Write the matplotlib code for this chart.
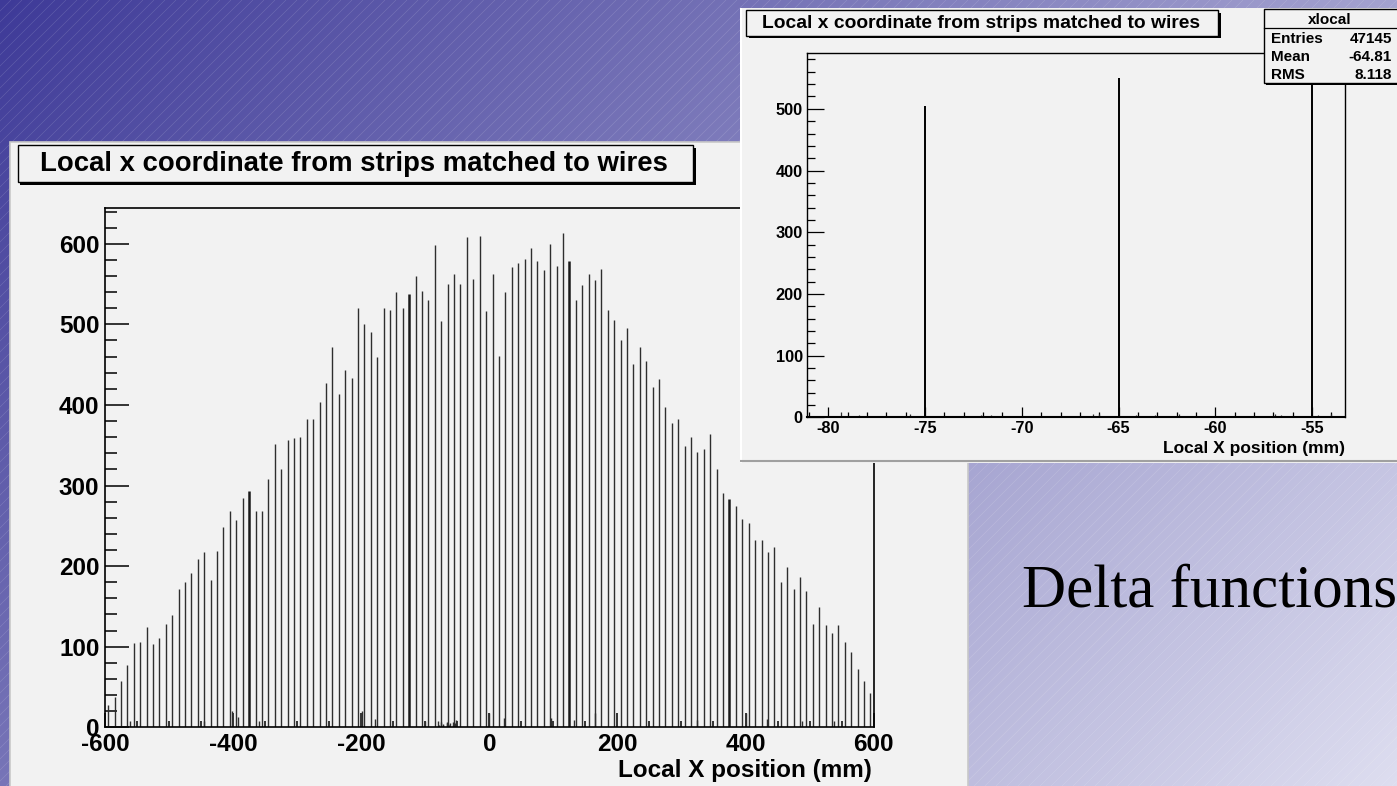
import numpy as np
import matplotlib
matplotlib.use('Agg')
import matplotlib.pyplot as plt
from matplotlib.patches import Rectangle
from matplotlib.collections import LineCollection
from matplotlib.ticker import MultipleLocator

plt.rcParams['font.family'] = 'Liberation Sans'
plt.rcParams['font.weight'] = 'bold'
plt.rcParams['axes.unicode_minus'] = False

# strip positions (mm) and counts
strip_x = list(range(-595, 600, 10))
strip_counts = [28, 38, 57, 77, 104, 106, 125, 103, 111, 128, 139, 171, 180, 191, 209,
                217, 183, 219, 248, 268, 257, 284, 293, 269, 269, 308, 351, 320, 357, 359,
                360, 382, 382, 404, 427, 472, 414, 443, 433, 520, 501, 490, 460, 520, 518,
                540, 520, 538, 560, 542, 530, 598, 504, 550, 562, 550, 608, 556, 610, 516,
                562, 461, 540, 571, 576, 581, 595, 579, 567, 600, 572, 613, 578, 530, 549,
                562, 555, 569, 518, 506, 480, 496, 451, 472, 455, 422, 432, 398, 378, 383,
                349, 360, 342, 345, 364, 321, 291, 283, 275, 258, 253, 233, 233, 217, 224,
                180, 199, 171, 187, 169, 128, 149, 127, 117, 127, 106, 93, 72, 57, 42]
double_strips = [-375, -125, 125, 375]

# small off-strip entries near the baseline
noise_x = [-561, -446, -401, -392, -360, -199, -178, -101, -52, -1, 23, 97, 133, 165,
           324, 401, 434, 488, 538,
           -79.35, -78.4, -75.8, -72.1, -71.6, -66.3, -66.0, -64.1, -63.1, -61.9,
           -56.9, -56.6, -54.7, -54.0]
noise_y = [8, 8, 20, 13, 8, 20, 10, 8, 9, 18, 12, 12, 9, 18,
           9, 18, 10, 8, 8,
           8, 3, 6, 4, 3, 6, 5, 4, 3, 5,
           6, 3, 4, 5]

title = 'Local x coordinate from strips matched to wires'
xlabel = 'Local X position (mm)'
stat_names = ['Entries', 'Mean', 'RMS']
stat_values = ['47145', '-64.81', '8.118']

W, H = 1397, 786
fig = plt.figure(figsize=(W / 100, H / 100), dpi=100)


def frac(x0, y0, x1, y1):
    return [x0 / W, 1 - y1 / H, (x1 - x0) / W, (y1 - y0) / H]


def pixel_axes(rect, z):
    a = fig.add_axes(rect, zorder=z)
    a.set_xlim(0, W)
    a.set_ylim(H, 0)
    a.axis('off')
    return a


# slide background: diagonal gradient + faint hatch lines
bg = pixel_axes([0, 0, 1, 1], 0)
yy, xx = np.mgrid[0:H:3, 0:W:3]
t = (xx + yy) / (W + H)
c0 = np.array([62, 58, 152]) / 255
c1 = np.array([222, 222, 240]) / 255
grad = c0 + t[..., None] * (c1 - c0)
bg.imshow(grad, extent=(0, W, H, 0), aspect='auto', interpolation='bilinear')
segs = [[(c, H), (c + H, 0)] for c in range(-H, W + 12, 11)]
bg.add_collection(LineCollection(segs, colors='white', linewidths=0.45, alpha=0.16))

# left canvas
bg.add_patch(Rectangle((10, 142), 958, 660, facecolor='#f2f2f2', edgecolor='#c8c8c8', lw=1.2, zorder=2))
bg.add_patch(Rectangle((20, 148), 675.5, 37, facecolor='black', zorder=3))
bg.add_patch(Rectangle((17.5, 145), 675, 37, facecolor='#f2f2f2', edgecolor='black', lw=1, zorder=4))
bg.text(40, 164, title, fontsize=19.8, ha='left', va='center', zorder=5)
bg.text(872, 770, xlabel, fontsize=17.5, ha='right', va='center', zorder=5)
bg.text(1022, 606.7, 'Delta functions', fontsize=44, family='Liberation Serif',
        weight='normal', ha='left', va='baseline', zorder=5)

# left histogram
axL = fig.add_axes(frac(105, 207.5, 873.6, 727.3), zorder=1)
axL.set_facecolor('none')
thin = [i for i, x in enumerate(strip_x) if x not in double_strips]
thick = [i for i, x in enumerate(strip_x) if x in double_strips]
axL.vlines([strip_x[i] for i in thin], 0, [strip_counts[i] for i in thin], color='#2e2e2e', lw=1.0)
axL.vlines([strip_x[i] for i in thick], 0, [strip_counts[i] for i in thick], color='#1a1a1a', lw=1.8)
axL.vlines(noise_x, 0, noise_y, color='#2e2e2e', lw=1.0)
axL.set_xlim(-600, 600)
axL.set_ylim(0, 645)
axL.xaxis.set_major_locator(MultipleLocator(200))
axL.xaxis.set_minor_locator(MultipleLocator(50))
axL.yaxis.set_major_locator(MultipleLocator(100))
axL.yaxis.set_minor_locator(MultipleLocator(20))
axL.tick_params(axis='both', which='both', direction='in', top=False, right=False, width=1.1, labelsize=17.5)
axL.tick_params(axis='y', which='major', length=17, pad=4)
axL.tick_params(axis='y', which='minor', length=8.6)
axL.tick_params(axis='x', which='major', length=10, pad=4)
axL.tick_params(axis='x', which='minor', length=4.3)
for s in axL.spines.values():
    s.set_linewidth(1.2)

# right canvas (zoom on the same histogram)
rp = pixel_axes(frac(740, 8, 1397, 463), 2)
rp.set_xlim(740, 1397)
rp.set_ylim(463, 8)
rp.add_patch(Rectangle((740, 8), 657, 455, facecolor='#f2f2f2', edgecolor='none'))
rp.plot([741, 741], [8, 462], color='white', lw=1.5)
rp.plot([740, 1397], [461.5, 461.5], color='#a0a0a0', lw=1.5)
rp.add_patch(Rectangle((748.5, 12.5), 472, 25.7, facecolor='black'))
rp.add_patch(Rectangle((746.3, 10), 472, 25.7, facecolor='#f2f2f2', edgecolor='black', lw=1))
rp.text(762, 23.5, title, fontsize=13.9, ha='left', va='center')
rp.text(1345, 448.3, xlabel, fontsize=12.5, ha='right', va='center')

axR = fig.add_axes(frac(807, 53.3, 1345, 417.3), zorder=3)
axR.set_facecolor('none')
axR.vlines(strip_x, 0, strip_counts, color='black', lw=1.4)
axR.vlines(noise_x, 0, noise_y, color='#333333', lw=0.9)
axR.set_xlim(-81.1, -53.3)
axR.set_ylim(0, 590)
axR.xaxis.set_major_locator(MultipleLocator(5))
axR.xaxis.set_minor_locator(MultipleLocator(1))
axR.yaxis.set_major_locator(MultipleLocator(100))
axR.yaxis.set_minor_locator(MultipleLocator(20))
axR.tick_params(axis='both', which='both', direction='in', top=False, right=False, width=0.9, labelsize=11.8)
axR.tick_params(axis='y', which='major', length=12, pad=3)
axR.tick_params(axis='y', which='minor', length=6)
axR.tick_params(axis='x', which='major', length=7, pad=3)
axR.tick_params(axis='x', which='minor', length=3.6)
for s in axR.spines.values():
    s.set_linewidth(1.0)
axR.spines['bottom'].set_linewidth(1.5)

# stats box on top
ov = pixel_axes([0, 0, 1, 1], 4)
ov.add_patch(Rectangle((1266, 11.5), 140, 73.4, facecolor='black'))
ov.add_patch(Rectangle((1264, 9.3), 140, 73.4, facecolor='#f2f2f2', edgecolor='black', lw=1))
ov.plot([1264, 1397], [28.3, 28.3], color='black', lw=0.9)
ov.text(1330, 19.5, 'xlocal', fontsize=11, ha='center', va='center')
for i, (n, v) in enumerate(zip(stat_names, stat_values)):
    yy_ = 39.3 + 18 * i
    ov.text(1271.5, yy_, n, fontsize=11, ha='left', va='center')
    ov.text(1392, yy_, v, fontsize=11, ha='right', va='center')

fig.savefig('out.png', dpi=100)
